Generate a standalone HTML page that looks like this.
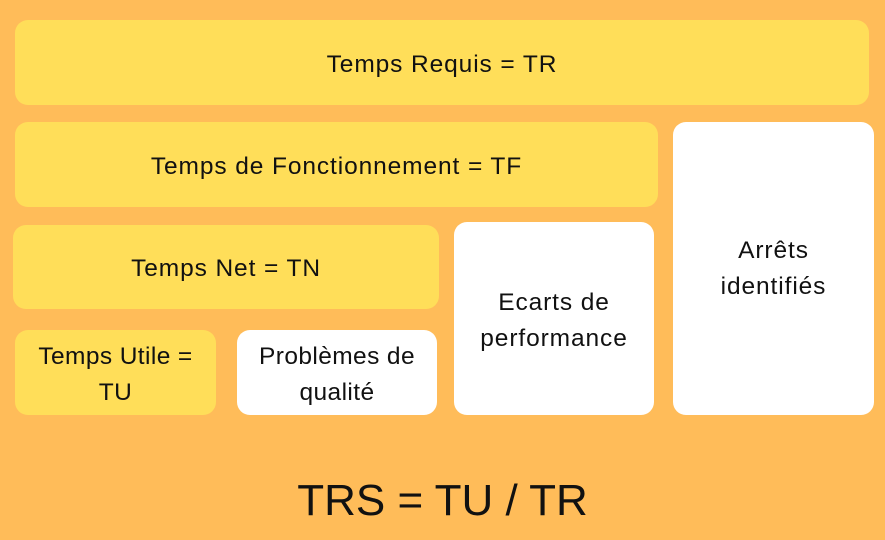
<!DOCTYPE html>
<html><head><meta charset="utf-8"><style>
body{margin:0;width:885px;height:540px;background:#FFBC59;position:relative;overflow:hidden;font-family:"Liberation Sans",sans-serif;color:#111}
.b{position:absolute;box-sizing:border-box;padding-top:4px;border-radius:13px;display:flex;align-items:center;justify-content:center;text-align:center;font-size:24.5px;letter-spacing:0.9px;line-height:36px}
.y{background:#FFDE59}.w{background:#fff}
</style></head><body>
<div class="b y" style="left:15px;top:20px;width:854px;height:85px">Temps Requis = TR</div>
<div class="b y" style="left:15px;top:122px;width:643px;height:85px">Temps de Fonctionnement = TF</div>
<div class="b y" style="left:13px;top:225px;width:426px;height:84px">Temps Net = TN</div>
<div class="b y" style="left:15px;top:330px;width:201px;height:85px;letter-spacing:0.4px">Temps Utile =<br>TU</div>
<div class="b w" style="left:237px;top:330px;width:200px;height:85px;letter-spacing:0.4px">Problèmes de<br>qualité</div>
<div class="b w" style="left:454px;top:222px;width:200px;height:193px">Ecarts de<br>performance</div>
<div class="b w" style="left:673px;top:122px;width:201px;height:293px;align-items:flex-start;padding-top:0"><div style="margin-top:111px">Arrêts<br>identifiés</div></div>
<div style="position:absolute;left:0;width:885px;top:471px;text-align:center;font-size:44px;line-height:60px">TRS = TU / TR</div>
</body></html>
